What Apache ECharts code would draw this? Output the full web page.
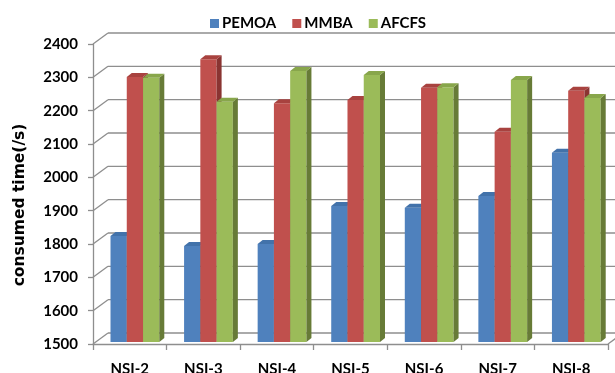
<!DOCTYPE html>
<html>
<head>
<meta charset="utf-8">
<script src="https://cdn.jsdelivr.net/npm/echarts@6/dist/echarts.min.js"></script>
<style>
html,body{margin:0;padding:0;background:#fff;}
#chart{width:615px;height:373px;}
</style>
</head>
<body>
<div id="chart"></div>
<script>
var categories = ['NSI-2', 'NSI-3', 'NSI-4', 'NSI-5', 'NSI-6', 'NSI-7', 'NSI-8'];
var seriesNames = ['PEMOA', 'MMBA', 'AFCFS'];
var pemoa = [1818, 1788, 1794, 1908, 1903, 1938, 2068];
var mmba  = [2295, 2348, 2216, 2226, 2263, 2131, 2254];
var afcfs = [2293, 2221, 2313, 2301, 2264, 2286, 2232];
var yTicks = [1500, 1600, 1700, 1800, 1900, 2000, 2100, 2200, 2300, 2400];
var yTitle = 'consumed time(/s)';

var frontColors = ['#4F81BD', '#C0504D', '#9BBB59'];
var topColors   = ['#4272AA', '#A8423F', '#88A64B'];
var sideColors  = ['#34567F', '#8A3432', '#677B37'];

var WALL_DX = 15, WALL_DY = -11;
var BAR_DX = 5, BAR_DY = -4;
var GRID_COLOR = '#8E8E8E';

function barRender(sIdx) {
  return function (params, api) {
    var idx = api.value(0), v = api.value(1);
    var p = api.coord([idx, v]);
    var base = api.coord([idx, 1500]);
    var catW = api.size([1, 0])[0];
    var bw = catW * 0.221;
    var xl = p[0] - catW * 0.262 + sIdx * bw;
    var xr = xl + bw;
    var yt = p[1] - 2;
    var yb = base[1] - 2;
    return {
      type: 'group',
      children: [
        { type: 'polygon', shape: { points: [[xl, yt], [xr, yt], [xr, yb], [xl, yb]] },
          style: { fill: frontColors[sIdx] } },
        { type: 'polygon', shape: { points: [[xr, yt], [xr + BAR_DX, yt + BAR_DY], [xr + BAR_DX, yb + BAR_DY], [xr, yb]] },
          style: { fill: sideColors[sIdx] } },
        { type: 'polygon', shape: { points: [[xl, yt], [xr, yt], [xr + BAR_DX, yt + BAR_DY], [xl + BAR_DX, yt + BAR_DY]] },
          style: { fill: topColors[sIdx] } }
      ]
    };
  };
}

function wallRender(params, api) {
  var v = api.value(1);
  var cs = params.coordSys;
  var y = api.coord([0, v])[1];
  var x0 = cs.x, x1 = cs.x + cs.width;
  var children = [
    { type: 'line', shape: { x1: x0, y1: y, x2: x0 + WALL_DX, y2: y + WALL_DY },
      style: { stroke: GRID_COLOR, lineWidth: 1.3 } },
    { type: 'line', shape: { x1: x0 + WALL_DX, y1: y + WALL_DY, x2: x1 + WALL_DX, y2: y + WALL_DY },
      style: { stroke: GRID_COLOR, lineWidth: 1.3 } }
  ];
  if (v === yTicks[0]) {
    children.push({ type: 'line', shape: { x1: x1, y1: y, x2: x1 + WALL_DX, y2: y + WALL_DY },
      style: { stroke: GRID_COLOR, lineWidth: 1.3 } });
  }
  return { type: 'group', children: children };
}

function toPairs(arr) { return arr.map(function (v, i) { return [i, v]; }); }

var chart = echarts.init(document.getElementById('chart'), null, { renderer: 'canvas' });
var labelFont = { fontFamily: 'Lato', fontWeight: 'bold', fontSize: 15, color: '#000' };

var option = {
  animation: false,
  backgroundColor: '#fff',
  graphic: [{
    type: 'text',
    x: 20,
    y: 205,
    rotation: Math.PI / 2,
    style: {
      text: yTitle,
      fontFamily: 'DejaVu Sans',
      fontWeight: 'bold',
      fontSize: 15.5,
      fill: '#000',
      align: 'center',
      verticalAlign: 'middle'
    }
  }],
  legend: {
    data: seriesNames,
    left: 205,
    top: 11,
    icon: 'rect',
    itemWidth: 9,
    itemHeight: 9,
    itemGap: 16,
    textStyle: { fontFamily: 'Lato', fontWeight: 'bold', fontSize: 15, color: '#000', padding: [0, 0, 0, -2] }
  },
  grid: { left: 93, right: 7, top: 44, bottom: 29, containLabel: false, outerBoundsMode: 'none' },
  xAxis: {
    type: 'category',
    data: categories,
    boundaryGap: true,
    axisLine: { show: true, lineStyle: { color: GRID_COLOR, width: 1.3 } },
    axisTick: { show: true, length: 6, lineStyle: { color: GRID_COLOR, width: 1.3 } },
    axisLabel: Object.assign({ margin: 18 }, labelFont),
    splitLine: { show: false }
  },
  yAxis: {
    type: 'value',
    min: 1500,
    max: 2400,
    interval: 100,
    axisLine: { show: true, lineStyle: { color: GRID_COLOR, width: 1.3 } },
    axisTick: { show: true, length: 5, lineStyle: { color: GRID_COLOR, width: 1.3 } },
    axisLabel: Object.assign({ margin: 15, formatter: function (v) { return String(v); } }, labelFont),
    splitLine: { show: false }
  },
  series: [
    {
      type: 'custom', name: 'wall', silent: true, z: 1,
      renderItem: wallRender,
      data: yTicks.map(function (t) { return [0, t]; }),
      encode: { x: 0, y: 1 }
    },
    {
      type: 'custom', name: seriesNames[0], z: 2,
      itemStyle: { color: frontColors[0] },
      renderItem: barRender(0), data: toPairs(pemoa), encode: { x: 0, y: 1 }
    },
    {
      type: 'custom', name: seriesNames[1], z: 2,
      itemStyle: { color: frontColors[1] },
      renderItem: barRender(1), data: toPairs(mmba), encode: { x: 0, y: 1 }
    },
    {
      type: 'custom', name: seriesNames[2], z: 2,
      itemStyle: { color: frontColors[2] },
      renderItem: barRender(2), data: toPairs(afcfs), encode: { x: 0, y: 1 }
    }
  ]
};
chart.setOption(option);
</script>
</body>
</html>
